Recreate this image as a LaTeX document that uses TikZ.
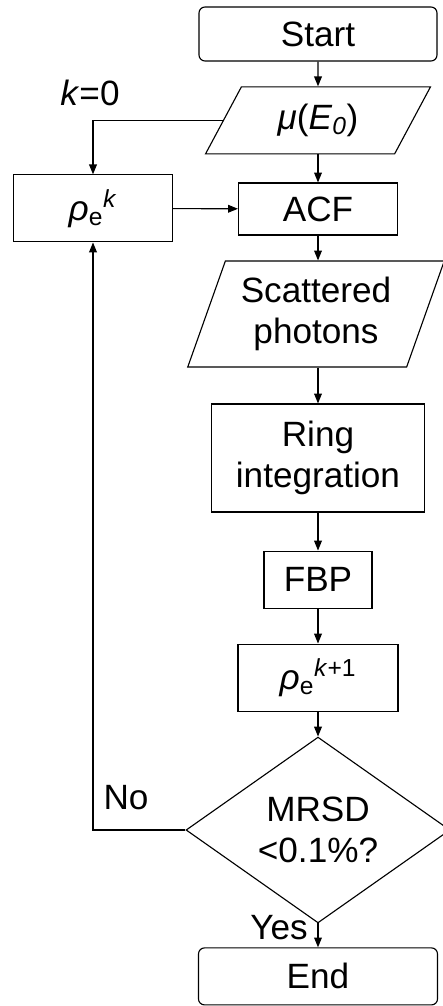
\documentclass[tikz,border=0pt]{standalone}
\usepackage{fontspec}
\setmainfont{Liberation Sans}
\usepackage{tikz}
\usetikzlibrary{shapes.geometric, arrows.meta}

\begin{document}
\begin{tikzpicture}[
        font=\fontsize{25}{29}\selectfont,
        line width=0.8pt,
        terminal/.style={rectangle, rounded corners=0.15cm, draw=black, align=center},
        process/.style={rectangle, draw=black, align=center},
        io/.style={trapezium, trapezium left angle=#1, trapezium right angle=180-#1, trapezium stretches=true, draw=black, align=center, inner sep=0pt},
        decision/.style={diamond, draw=black, align=center, inner sep=0pt},
        arrow/.style={-{Triangle[length=7pt, width=5.5pt]}}
    ]
        \useasboundingbox (0,0) rectangle (11.05,-25.15);

        % Main column
        \node[terminal, minimum width=5.95cm, minimum height=1.35cm] (start) at (7.95, -0.85) {Start};
        \node[io=60, minimum width=5.65cm, minimum height=1.675cm] (mu) at (7.95, -3.01) {\textit{μ}(\textit{E}\textsubscript{\textit{0}})};
        \node[process, minimum width=3.975cm, minimum height=1.3cm] (acf) at (7.95, -5.225) {ACF};
        \node[io=67, minimum width=6.425cm, minimum height=2.65cm] (scat) at (7.9, -7.85) {Scattered\\photons};
        \node[process, minimum width=5.325cm, minimum height=2.7cm] (ring) at (7.95, -11.45) {Ring\\integration};
        \node[process, minimum width=2.7cm, minimum height=1.425cm] (fbp) at (7.95, -14.49) {FBP};
        \node[process, minimum width=4cm, minimum height=1.675cm] (rhonew) at (7.95, -16.94) {\textit{ρ}\textsubscript{e}\textsuperscript{\textit{k}+1}};
        \node[decision, minimum width=6.6cm, minimum height=3.975cm] (mrsd) at (7.95, -20.75) {MRSD\\<0.1\%?};
        \node[terminal, minimum width=5.975cm, minimum height=1.425cm] (end) at (7.95, -24.41) {End};

        % Loop side
        \node[process, minimum width=3.975cm, minimum height=1.675cm] (rho) at (2.325, -5.21) {\textit{ρ}\textsubscript{e}\textsuperscript{\textit{k}}};
        \node (k0) at (2.25, -2.33) {\textit{k}=0};
        \node (no) at (3.15, -19.93) {No};
        \node (yes) at (6.975, -23.2) {Yes};

        % Arrows
        \draw[arrow] (start) -- (mu);
        \draw[arrow] (mu.south -| acf.north) -- (acf);
        \draw[arrow] (mu.west) -| (rho.north);
        \draw[arrow] (rho) -- (acf);
        \draw[arrow] (acf) -- (acf.south |- scat.north);
        \draw[arrow] (scat.south -| ring.north) -- (ring);
        \draw[arrow] (ring) -- (fbp);
        \draw[arrow] (fbp) -- (rhonew);
        \draw[arrow] (rhonew) -- (mrsd);
        \draw[arrow] (mrsd) -- (end);
        \draw[arrow] (mrsd.west) -| (rho.south);
    \end{tikzpicture}
\end{document}
